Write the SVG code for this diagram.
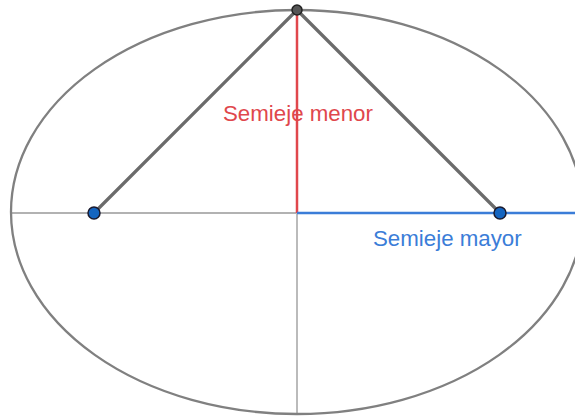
<svg xmlns="http://www.w3.org/2000/svg" width="575" height="419" viewBox="0 0 575 419">
<style>
.lbl{font-family:"Liberation Sans",Arial,sans-serif;font-size:22.3px}
.tri{stroke:#6b6b6b;stroke-width:3.2;fill:none;stroke-linecap:round}
.focus{fill:#1565c0;stroke:#1a1a2e;stroke-width:1.5}
</style>
<rect width="575" height="419" fill="#fff"/>
<g id="axes">
<line x1="11" y1="213" x2="297" y2="213" stroke="#999" stroke-width="1.5"/>
<line x1="297" y1="213" x2="297" y2="414" stroke="#bbb" stroke-width="2"/>
</g>
<g id="ellipse"><ellipse cx="297" cy="212" rx="286" ry="202" fill="none" stroke="#808080" stroke-width="2.3"/></g>
<g id="connectors">
<line class="tri" x1="94" y1="213" x2="297" y2="10"/>
<line class="tri" x1="500" y1="213" x2="297" y2="10"/>
<line x1="297" y1="10" x2="297" y2="213" stroke="#e0474c" stroke-width="2.5"/>
<line x1="297" y1="213" x2="575" y2="213" stroke="#3b7dd8" stroke-width="2.5"/>
</g>
<g id="vertex"><circle cx="297" cy="10" r="5" fill="#555" stroke="#222" stroke-width="1.5"/></g>
<g id="focus1"><circle class="focus" cx="94" cy="213" r="6"/></g>
<g id="focus2"><circle class="focus" cx="500" cy="213" r="6"/></g>
<g id="label-menor"><text class="lbl" x="223" y="121" fill="#e0474c">Semieje menor</text></g>
<g id="label-mayor"><text class="lbl" x="373" y="246" fill="#3b7dd8">Semieje mayor</text></g>
</svg>
